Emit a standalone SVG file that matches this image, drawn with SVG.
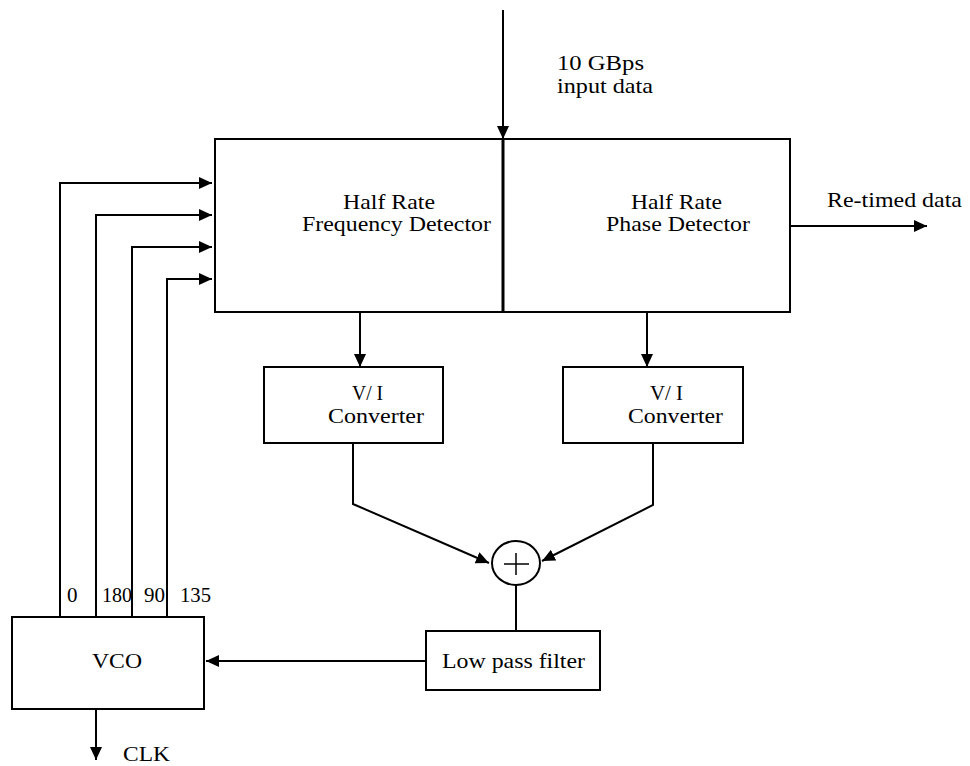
<svg xmlns="http://www.w3.org/2000/svg" width="970" height="766" viewBox="0 0 970 766">
<style>
.box{fill:#fff;stroke:#000;stroke-width:2}
.ln{fill:none;stroke:#000;stroke-width:2}
.t{font-family:"Liberation Serif","Times New Roman",serif;font-size:21px;fill:#000}
</style>
<defs>
<marker id="ah" markerUnits="userSpaceOnUse" markerWidth="14" markerHeight="13" refX="13" refY="6" orient="auto">
<path d="M0,0 L13,6 L0,12 z" fill="#000"/>
</marker>
</defs>
<rect width="970" height="766" fill="#fff"/>

<g id="detector">
<rect class="box" x="215" y="139" width="575" height="173"/>
<line x1="503" y1="139" x2="503" y2="312" stroke="#000" stroke-width="3"/>
<text class="t" x="343" y="209" textLength="92" lengthAdjust="spacingAndGlyphs">Half Rate</text>
<text class="t" x="302" y="231" textLength="189" lengthAdjust="spacingAndGlyphs">Frequency Detector</text>
<text class="t" x="631" y="209" textLength="91" lengthAdjust="spacingAndGlyphs">Half Rate</text>
<text class="t" x="606" y="231" textLength="144" lengthAdjust="spacingAndGlyphs">Phase Detector</text>
</g>

<g id="vi-left">
<rect class="box" x="264" y="367" width="179" height="76"/>
<text class="t" x="352" y="400" textLength="31" lengthAdjust="spacingAndGlyphs">V/ I</text>
<text class="t" x="328" y="423" textLength="96" lengthAdjust="spacingAndGlyphs">Converter</text>
</g>

<g id="vi-right">
<rect class="box" x="563" y="367" width="180" height="76"/>
<text class="t" x="650" y="400" textLength="33" lengthAdjust="spacingAndGlyphs">V/ I</text>
<text class="t" x="628" y="423" textLength="95" lengthAdjust="spacingAndGlyphs">Converter</text>
</g>

<g id="sum">
<ellipse class="ln" cx="516" cy="563" rx="24" ry="22"/>
<line x1="504" y1="564" x2="529" y2="564" stroke="#000" stroke-width="1.5"/>
<line x1="516" y1="553" x2="516" y2="575" stroke="#000" stroke-width="1.5"/>
</g>

<g id="lpf">
<rect class="box" x="426" y="631" width="174" height="59"/>
<text class="t" x="442" y="668" textLength="143" lengthAdjust="spacingAndGlyphs">Low pass filter</text>
</g>

<g id="vco">
<rect class="box" x="12" y="617" width="192" height="92"/>
<text class="t" x="92" y="668" textLength="50" lengthAdjust="spacingAndGlyphs">VCO</text>
<text class="t" x="67" y="602">0</text>
<text class="t" x="102" y="602" textLength="30" lengthAdjust="spacingAndGlyphs">180</text>
<text class="t" x="144" y="602" textLength="21" lengthAdjust="spacingAndGlyphs">90</text>
<text class="t" x="180" y="602" textLength="31" lengthAdjust="spacingAndGlyphs">135</text>
</g>

<g id="labels">
<text class="t" x="557" y="70" textLength="87" lengthAdjust="spacingAndGlyphs">10  GBps</text>
<text class="t" x="557" y="93" textLength="96" lengthAdjust="spacingAndGlyphs">input data</text>
<text class="t" x="827" y="207" textLength="135" lengthAdjust="spacingAndGlyphs">Re-timed data</text>
<text class="t" x="123" y="761" textLength="47" lengthAdjust="spacingAndGlyphs">CLK</text>
</g>

<g id="connectors">
<line class="ln" x1="503" y1="10" x2="503" y2="139" stroke-width="1.5" marker-end="url(#ah)"/>
<line class="ln" x1="790" y1="226" x2="927" y2="226" marker-end="url(#ah)"/>
<polyline class="ln" points="60,617 60,183 212,183" marker-end="url(#ah)"/>
<polyline class="ln" points="96,617 96,215 212,215" marker-end="url(#ah)"/>
<polyline class="ln" points="132,617 132,247 212,247" marker-end="url(#ah)"/>
<polyline class="ln" points="167,617 167,279 212,279" marker-end="url(#ah)"/>
<line class="ln" x1="360" y1="312" x2="360" y2="367" marker-end="url(#ah)"/>
<line class="ln" x1="647" y1="312" x2="647" y2="367" marker-end="url(#ah)"/>
<polyline class="ln" points="353,443 353,504 489,563" marker-end="url(#ah)"/>
<polyline class="ln" points="653,443 653,505 542,561" marker-end="url(#ah)"/>
<line class="ln" x1="516" y1="585" x2="516" y2="631"/>
<line class="ln" x1="426" y1="661" x2="206" y2="661" marker-end="url(#ah)"/>
<line class="ln" x1="96" y1="709" x2="96" y2="760" marker-end="url(#ah)"/>
</g>
</svg>
